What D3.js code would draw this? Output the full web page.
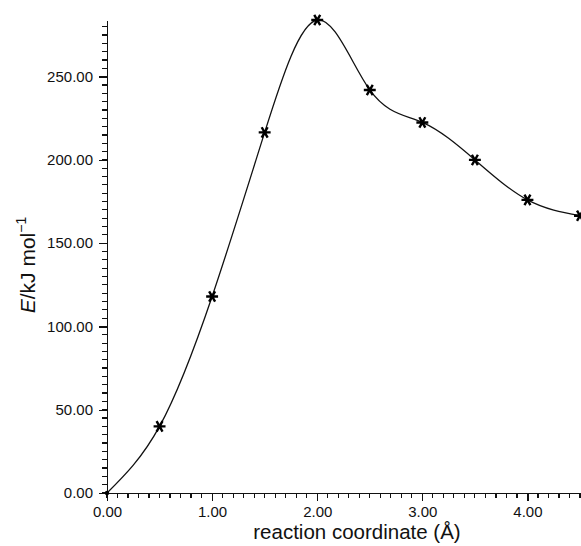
<!DOCTYPE html>
<html>
<head>
<meta charset="utf-8">
<script src="https://cdn.jsdelivr.net/npm/d3@7"></script>
<style>
  body { margin: 0; background: #fff; }
  text { font-family: "Liberation Sans", Arial, sans-serif; fill: #111; }
  .xminor line, .yminor line, .tick line, .domain { shape-rendering: crispEdges; }
</style>
</head>
<body>
<script>
// reaction coordinate (Angstrom) and energy (kJ/mol)
var coords = [0, 0.5, 1.0, 1.5, 2.0, 2.5, 3.0, 3.5, 4.0, 4.5];
var energies = [0, 40, 118, 216.5, 284, 242, 222.5, 200, 176, 166.5];
var xTicks = [0, 1, 2, 3, 4];
var yTicks = [0, 50, 100, 150, 200, 250];

var W = 581, H = 546;
var margin = { top: 20, right: 1, bottom: 53, left: 107 },
    width = W - margin.left - margin.right,
    height = H - margin.top - margin.bottom;

var svg = d3.select("body").append("svg")
    .attr("width", W)
    .attr("height", H);
var g = svg.append("g")
    .attr("transform", "translate(" + margin.left + "," + margin.top + ")");

var x = d3.scaleLinear().domain([0, 4.5]).range([0, width]);
var y = d3.scaleLinear().domain([0, 284]).range([height, 0]);

// minor ticks, every 0.1 A and every 5 kJ/mol
var xMinorVals = d3.range(0, 46).map(function (i) { return i / 10; });
var yMinorVals = d3.range(0, 57).map(function (i) { return i * 5; });

g.append("g").attr("class", "xminor")
  .selectAll("line").data(xMinorVals).enter().append("line")
    .attr("x1", function (d) { return x(d); })
    .attr("x2", function (d) { return x(d); })
    .attr("y1", height)
    .attr("y2", height + 5)
    .attr("stroke", "#111")
    .attr("stroke-width", 1.2);

g.append("g").attr("class", "yminor")
  .selectAll("line").data(yMinorVals).enter().append("line")
    .attr("y1", function (d) { return y(d); })
    .attr("y2", function (d) { return y(d); })
    .attr("x1", 0)
    .attr("x2", -5)
    .attr("stroke", "#111")
    .attr("stroke-width", 1.2);

// major ticks + labels
var xAxis = d3.axisBottom(x).tickValues(xTicks).tickSize(8).tickSizeOuter(0).tickPadding(5).tickFormat(d3.format(".2f"));
var yAxis = d3.axisLeft(y).tickValues(yTicks).tickSize(8).tickSizeOuter(0).tickPadding(6).tickFormat(d3.format(".2f"));
g.append("g").attr("class", "xaxis").attr("transform", "translate(0," + height + ")").call(xAxis);
g.append("g").attr("class", "yaxis").call(yAxis);

g.selectAll(".domain").attr("stroke", "#111").attr("stroke-width", 1.3);
g.selectAll(".tick line").attr("stroke", "#111").attr("stroke-width", 1.3);
g.selectAll(".tick text").style("font-size", "15px").attr("fill", "#111");

var pts = coords.map(function (c, i) { return [c, energies[i]]; });

var line = d3.line()
    .x(function (d) { return x(d[0]); })
    .y(function (d) { return y(d[1]); })
    .curve(d3.curveNatural);

g.append("path")
    .datum(pts)
    .attr("fill", "none")
    .attr("stroke", "#111")
    .attr("stroke-width", 1.3)
    .attr("d", line);

var star = d3.symbol().type(d3.symbolAsterisk).size(100);
g.selectAll(".star")
    .data(pts.slice(1))
  .enter().append("path")
    .attr("class", "star")
    .attr("d", star)
    .attr("fill", "none")
    .attr("stroke", "#000")
    .attr("stroke-width", 2.4)
    .attr("transform", function (d) { return "translate(" + x(d[0]) + "," + y(d[1]) + ") rotate(90)"; });

g.append("circle")
    .attr("cx", x(pts[0][0]))
    .attr("cy", y(pts[0][1]))
    .attr("r", 2.2)
    .attr("fill", "#000");

// axis titles
svg.append("text")
    .attr("x", 357)
    .attr("y", 539)
    .attr("text-anchor", "middle")
    .style("font-size", "20.5px")
    .text("reaction coordinate (Å)");

var yt = svg.append("text")
    .attr("transform", "translate(35,265) rotate(-90)")
    .attr("text-anchor", "middle")
    .style("font-size", "21px");
yt.append("tspan").style("font-style", "italic").text("E");
yt.append("tspan").text("/kJ mol");
yt.append("tspan").attr("dy", -9).style("font-size", "14px").text("−1");
</script>
</body>
</html>
